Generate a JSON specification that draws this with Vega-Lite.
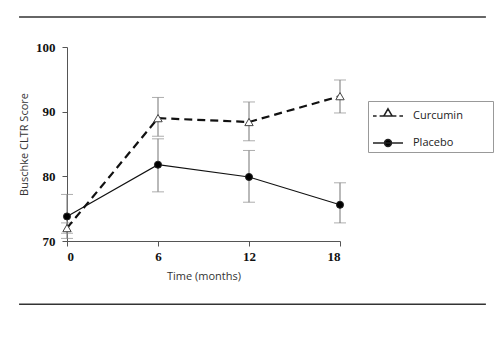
{
  "$schema": "https://vega.github.io/schema/vega-lite/v6.json",
  "width": 273,
  "height": 194,
  "autosize": {"type": "none"},
  "padding": {"left": 67, "top": 47, "right": 164, "bottom": 112},
  "background": "white",
  "config": {
    "view": {"stroke": null},
    "axis": {
      "grid": false,
      "domainColor": "#555",
      "tickColor": "#555",
      "tickSize": 5,
      "labelFont": "Liberation Serif",
      "labelFontWeight": "bold",
      "labelFontSize": 13,
      "labelColor": "#111",
      "titleFont": "Open Sans",
      "titleFontSize": 11,
      "titleFontWeight": "normal",
      "titleColor": "#333"
    }
  },
  "data": {
    "values": [
      {"series": "Curcumin", "time": 0, "mean": 72.0, "lo": 71.2, "hi": 72.8},
      {"series": "Curcumin", "time": 6, "mean": 89.0, "lo": 86.2, "hi": 92.2},
      {"series": "Curcumin", "time": 12, "mean": 88.4, "lo": 85.5, "hi": 91.5},
      {"series": "Curcumin", "time": 18, "mean": 92.4, "lo": 89.8, "hi": 94.9},
      {"series": "Placebo", "time": 0, "mean": 73.8, "lo": 70.4, "hi": 77.2},
      {"series": "Placebo", "time": 6, "mean": 81.8, "lo": 77.6, "hi": 85.8},
      {"series": "Placebo", "time": 12, "mean": 79.9, "lo": 76.0, "hi": 84.0},
      {"series": "Placebo", "time": 18, "mean": 75.6, "lo": 72.8, "hi": 79.0}
    ]
  },
  "layer": [
    {
      "mark": {"type": "errorbar", "color": "#8a8a8a", "ticks": {"size": 12, "color": "#8a8a8a"}, "rule": {"strokeWidth": 1.2}},
      "encoding": {
        "x": {"field": "time", "type": "quantitative", "title": "Time (months)"},
        "y": {"field": "lo", "type": "quantitative", "title": "Buschke CLTR Score"},
        "y2": {"field": "hi"},
        "detail": {"field": "series"}
      }
    },
    {
      "transform": [{"filter": "datum.series === 'Curcumin'"}],
      "mark": {"type": "line", "color": "#111", "strokeDash": [8, 5], "strokeWidth": 2.2},
      "encoding": {
        "x": {
          "field": "time", "type": "quantitative",
          "scale": {"domain": [0, 18], "nice": false},
          "axis": {"values": [0, 6, 12, 18], "title": "Time (months)", "labelPadding": 4, "titlePadding": 7}
        },
        "y": {
          "field": "mean", "type": "quantitative",
          "scale": {"domain": [70, 100], "nice": false, "zero": false},
          "axis": {"values": [70, 80, 90, 100], "title": "Buschke CLTR Score", "labelPadding": 7, "titlePadding": 6}
        }
      }
    },
    {
      "transform": [{"filter": "datum.series === 'Placebo'"}],
      "mark": {"type": "line", "color": "#111", "strokeWidth": 1.1},
      "encoding": {
        "x": {"field": "time", "type": "quantitative"},
        "y": {"field": "mean", "type": "quantitative"}
      }
    },
    {
      "transform": [{"filter": "datum.series === 'Curcumin'"}],
      "mark": {"type": "point", "shape": "triangle-up", "filled": true, "fill": "white", "stroke": "#444", "strokeWidth": 1, "opacity": 1, "size": 70},
      "encoding": {
        "x": {"field": "time", "type": "quantitative"},
        "y": {"field": "mean", "type": "quantitative"}
      }
    },
    {
      "transform": [{"filter": "datum.series === 'Placebo'"}],
      "mark": {"type": "point", "shape": "circle", "filled": true, "fill": "black", "stroke": "#222", "strokeWidth": 1, "opacity": 1, "size": 50},
      "encoding": {
        "x": {"field": "time", "type": "quantitative"},
        "y": {"field": "mean", "type": "quantitative"}
      }
    },
    {
      "transform": [{"filter": "false"}],
      "mark": {"type": "point", "filled": true, "stroke": "#222", "strokeWidth": 1.3, "opacity": 1},
      "encoding": {
        "x": {"field": "time", "type": "quantitative"},
        "y": {"field": "mean", "type": "quantitative"},
        "shape": {
          "field": "series", "type": "nominal",
          "scale": {
            "domain": ["Curcumin", "Placebo"],
            "range": [
              "M-1.25,0H-0.95M-0.7,0H-0.4M0.4,0H0.7M0.95,0H1.25M0,-0.6L0.35,0L-0.35,0Z",
              "M-1.25,0H1.25M-0.29,0A0.29,0.29 0 1,1 0.29,0A0.29,0.29 0 1,1 -0.29,0Z"
            ]
          },
          "legend": {
            "title": "\u00a0",
            "titleOrient": "right",
            "titlePadding": 28,
            "orient": "none",
            "legendX": 301,
            "legendY": 54,
            "padding": 2,
            "symbolOffset": 5,
            "symbolSize": 576,
            "rowPadding": 9,
            "labelOffset": 12,
            "labelFont": "Open Sans",
            "labelFontSize": 11,
            "labelColor": "#222",
            "strokeColor": "#999",
            "encode": {
              "symbols": {
                "update": {
                  "stroke": {"value": "#222"},
                  "strokeWidth": {"value": 1.3},
                  "opacity": {"value": 1}
                }
              }
            }
          }
        },
        "fill": {
          "field": "series", "type": "nominal",
          "scale": {"domain": ["Curcumin", "Placebo"], "range": ["white", "black"]}
        }
      }
    },
    {
      "data": {"values": [{}]},
      "mark": {"type": "rule", "color": "#333", "strokeWidth": 1.5},
      "encoding": {
        "x": {"datum": -3.16, "type": "quantitative"},
        "x2": {"datum": 27.62},
        "y": {"datum": 104.63, "type": "quantitative"}
      }
    },
    {
      "data": {"values": [{}]},
      "mark": {"type": "rule", "color": "#333", "strokeWidth": 1.5},
      "encoding": {
        "x": {"datum": -3.16, "type": "quantitative"},
        "x2": {"datum": 27.62},
        "y": {"datum": 60.2, "type": "quantitative"}
      }
    }
  ]
}
